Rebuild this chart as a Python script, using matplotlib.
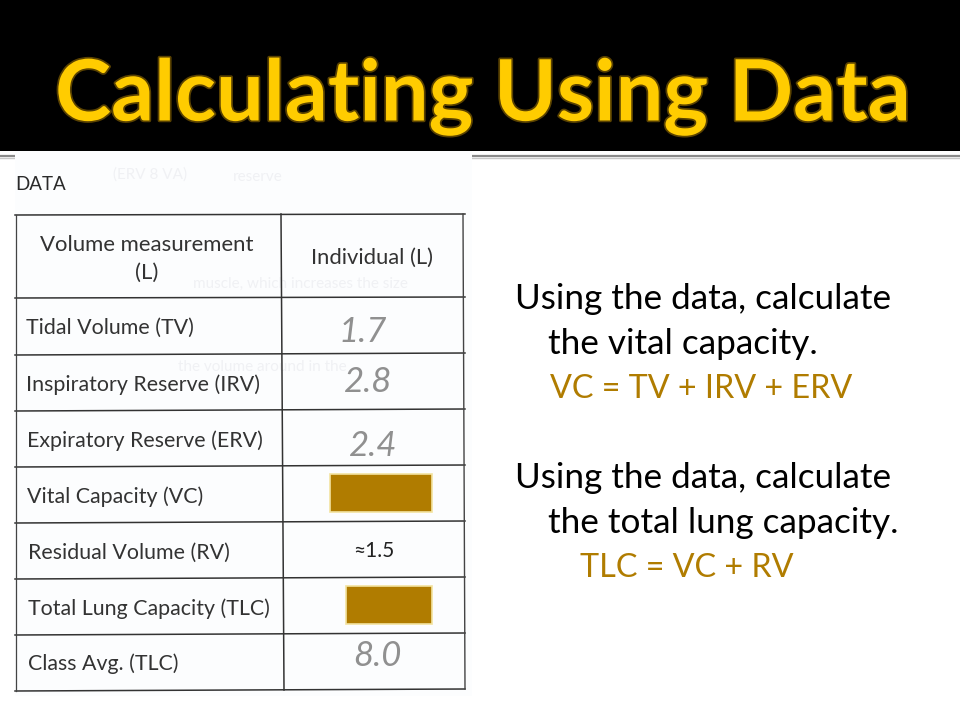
import matplotlib
matplotlib.use("Agg")
import matplotlib.pyplot as plt
import matplotlib.patheffects as pe
from matplotlib.patches import Rectangle

plt.rcParams['font.family'] = ['Lato', 'DejaVu Sans']

title = "Calculating Using Data"
header_left = ["Volume measurement", "(L)"]
header_right = "Individual (L)"
measures = ["Tidal Volume (TV)", "Inspiratory Reserve (IRV)", "Expiratory Reserve (ERV)",
            "Vital Capacity (VC)", "Residual Volume (RV)", "Total Lung Capacity (TLC)",
            "Class Avg. (TLC)"]
values = ["1.7", "2.8", "2.4", "", "≈1.5", "", "8.0"]
body_text = [("Using the data, calculate", 515, 299, "k"),
             ("the vital capacity.", 548, 344, "k"),
             ("VC = TV + IRV + ERV", 550, 389, "g"),
             ("Using the data, calculate", 515, 478, "k"),
             ("the total lung capacity.", 548, 523, "k"),
             ("TLC = VC + RV", 580, 568, "g")]

GOLD = "#B07C00"
fig = plt.figure(figsize=(9.6, 7.2), dpi=100, facecolor="white")
ax = fig.add_axes([0, 0, 1, 1])
ax.set_xlim(0, 960)
ax.set_ylim(720, 0)
ax.axis("off")

# Slide banner and rule
ax.add_patch(Rectangle((0, 0), 960, 151, fc="black", ec="none"))
ax.plot([0, 960], [156, 156], color="#8a8a8a", lw=1.6, zorder=1)
ax.plot([0, 960], [157.5, 157.5], color="#c8c8c8", lw=1.0, zorder=1)
ax.text(483, 97, title, color="#FFCC00", fontsize=61, fontweight="bold",
        ha="center", va="center", zorder=3,
        path_effects=[pe.withStroke(linewidth=2.5, foreground="#5a4200")])

# Scanned sheet
ax.add_patch(Rectangle((15, 151), 457, 545, fc="#FCFDFE", ec="none", zorder=2))
ax.text(15, 184, "DATA", fontsize=13.5, color="#2a2a2a", va="center", zorder=4)

# Faint bleed-through from the reverse of the page
ghost = [("(ERV 8 VA)", 150, 175), ("reserve", 258, 177),
         ("muscle, which increases the size", 300, 284),
         ("the volume around in the", 262, 367)]
for s, x, y in ghost:
    ax.text(x, y, s, fontsize=11, color="#f0f1f4", ha="center", va="center", zorder=2.5)

# Table grid
row_left = [215, 298, 355, 411, 467, 523, 579, 635, 691]
row_right = [214, 297, 353, 409, 465, 521, 577, 633, 689]
for yl, yr in zip(row_left, row_right):
    ax.plot([15, 465], [yl, yr], color="#333333", lw=1.1, zorder=3)
ax.plot([281, 284], [214, 690], color="#333333", lw=1.1, zorder=3)
ax.plot([463, 465], [214, 689], color="#444444", lw=1.0, zorder=3)
ax.plot([16, 16], [215, 691], color="#444444", lw=0.9, zorder=3)

# Table text
ax.text(147, 245, header_left[0], fontsize=15.9, color="#333333", ha="center", va="center", zorder=4)
ax.text(147, 273, header_left[1], fontsize=15.9, color="#333333", ha="center", va="center", zorder=4)
ax.text(372, 258, header_right, fontsize=15.8, color="#333333", ha="center", va="center", zorder=4)

label_y = [328, 385, 441, 497, 553, 609, 664]
label_x = [26, 26, 27, 27, 28, 28, 28]
value_x = [363, 368, 373, 381, 374, 388, 377]
value_y = [332, 382, 446, 497, 551, 609, 656]
for name, val, x, y, vx, vy in zip(measures, values, label_x, label_y, value_x, value_y):
    ax.text(x, y, name, fontsize=15.4, color="#333333", va="center", zorder=4)
    if val.startswith("≈"):
        ax.text(vx, vy, val, fontsize=15, color="#222222", ha="center", va="center", zorder=4)
    elif val:
        ax.text(vx, vy, val, fontsize=25, style="italic",
                color="#909090", ha="center", va="center", zorder=4)

# Answer-hiding boxes
for x0, y0, x1, y1 in [(329.5, 473.5, 431.5, 511.5), (345.5, 585.5, 431.5, 623.5)]:
    ax.add_patch(Rectangle((x0, y0), x1 - x0, y1 - y0, fc=GOLD, ec="#F3E3A0", lw=1.2, zorder=5))

# Right-hand text
for s, x, y, c in body_text:
    ax.text(x, y, s, fontsize=25.3 if c == "k" else 23.3, color="black" if c == "k" else GOLD,
            va="center", ha="left", zorder=4)

fig.savefig("out.png", dpi=100, facecolor="white")
